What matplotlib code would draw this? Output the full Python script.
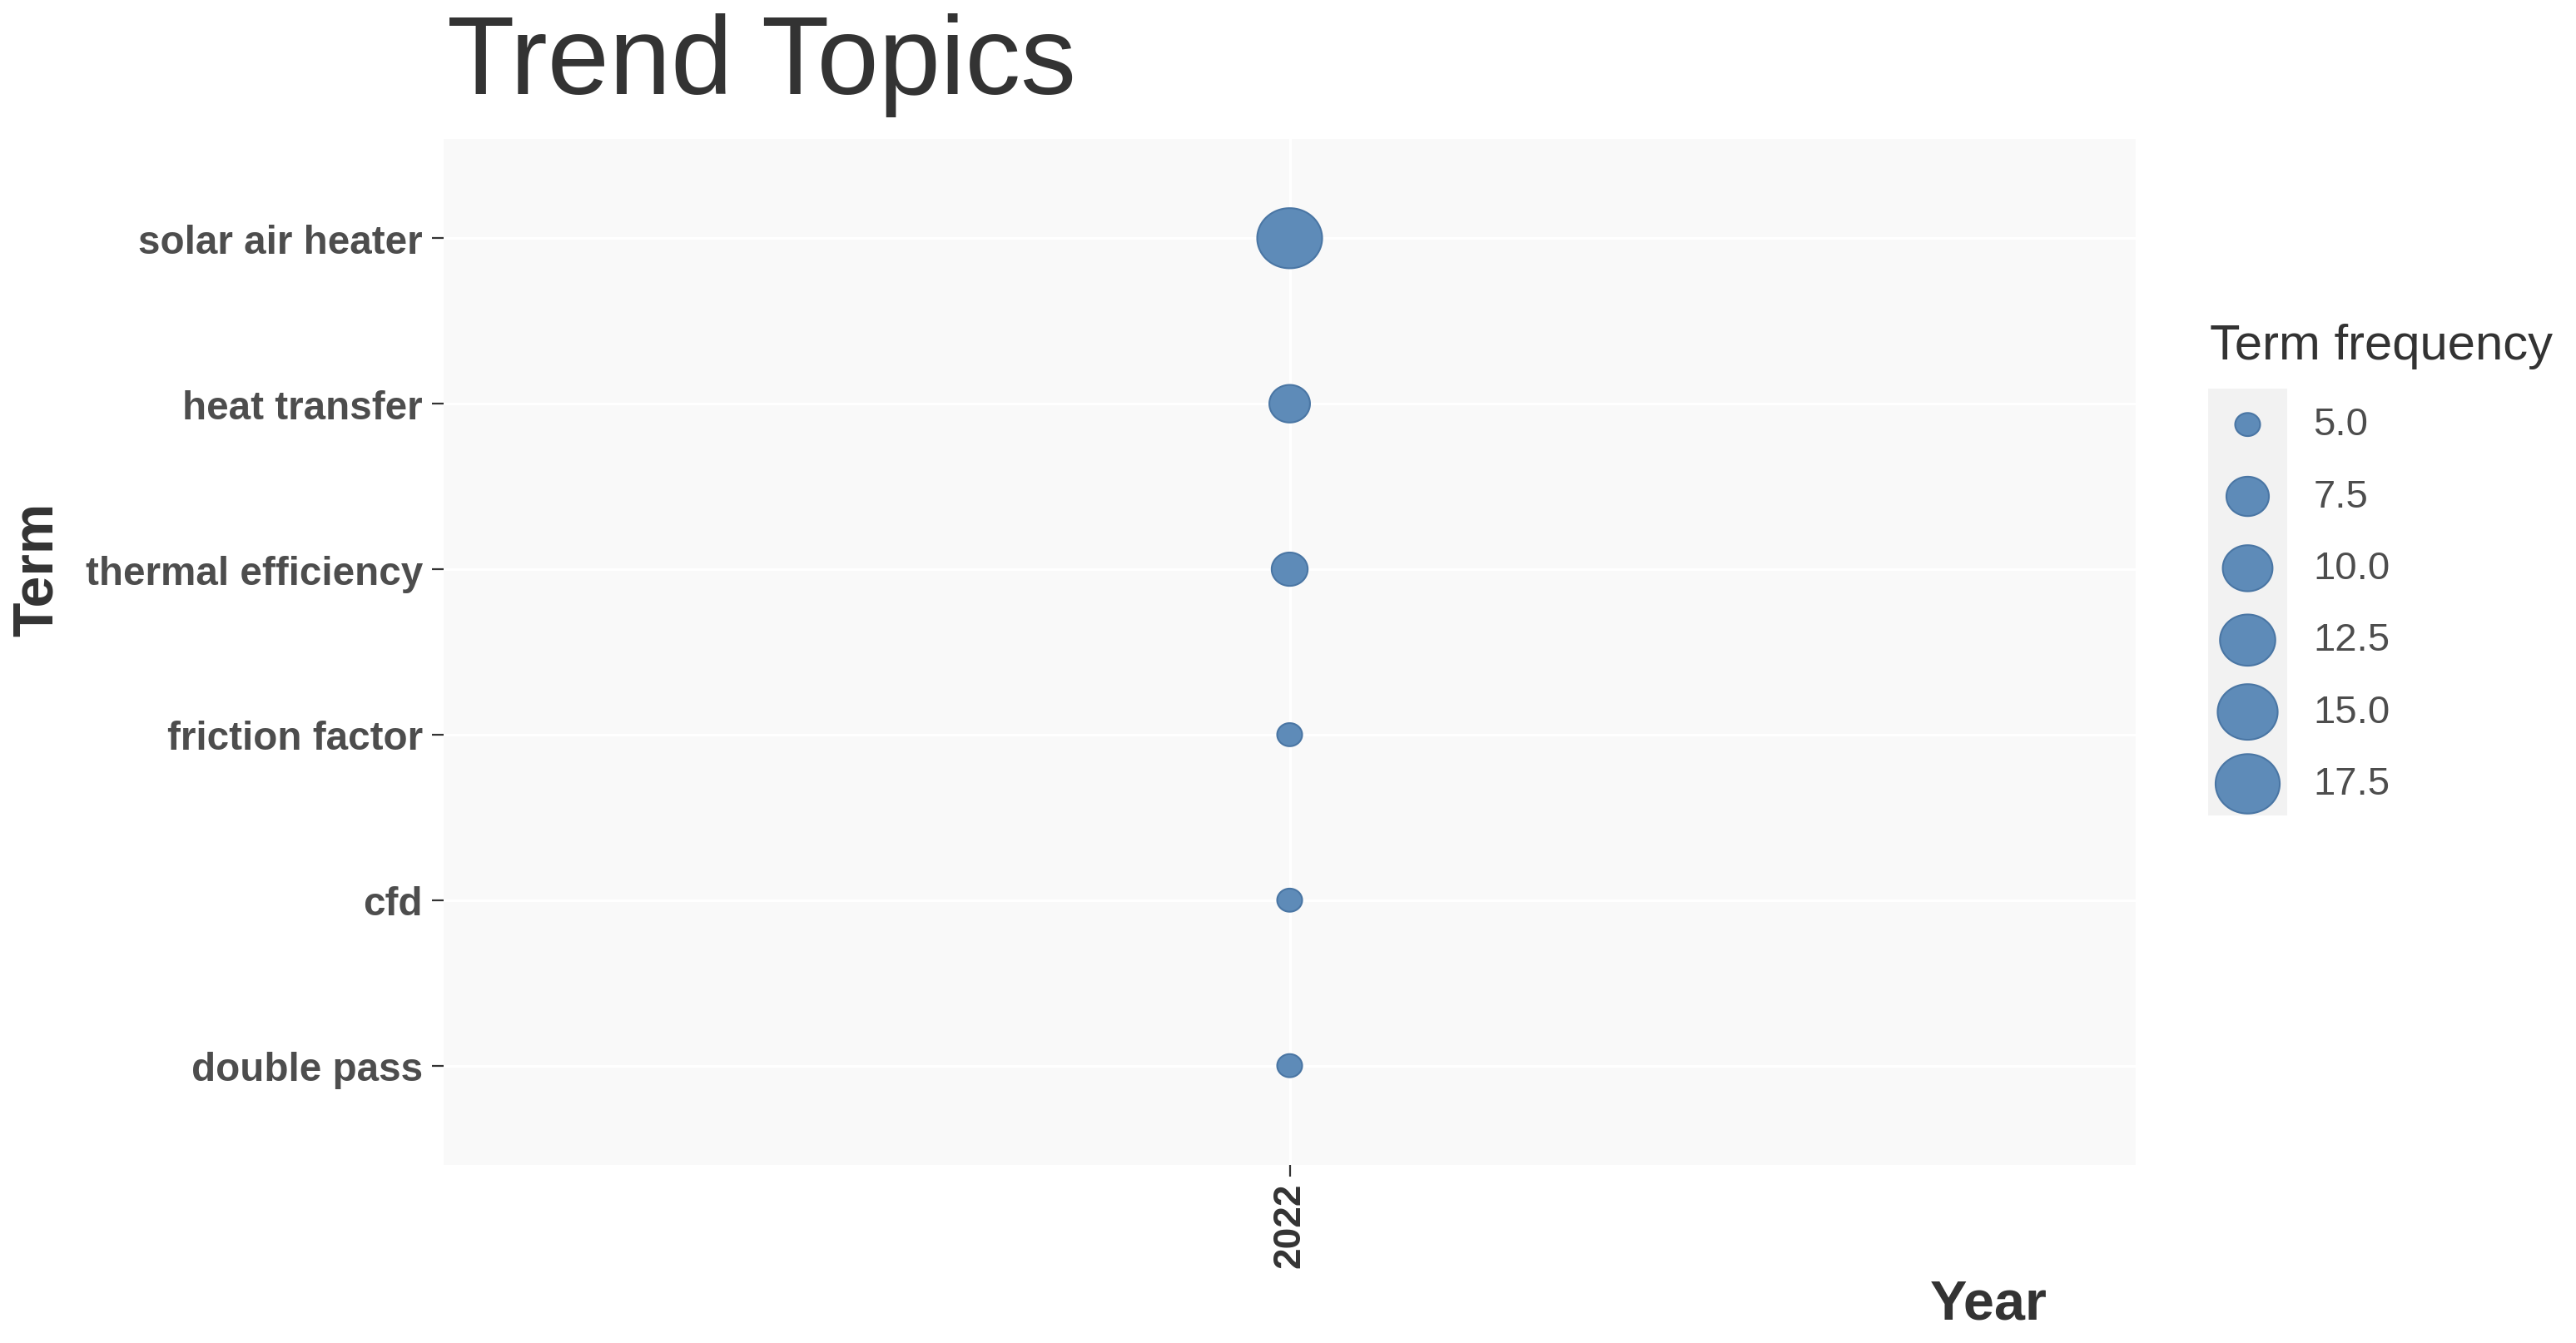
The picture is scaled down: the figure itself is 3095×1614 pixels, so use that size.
import numpy as np
import matplotlib
matplotlib.use("Agg")
import matplotlib.pyplot as plt
import matplotlib.transforms as mtransforms
from matplotlib.path import Path

plt.rcParams['font.family'] = ['Liberation Sans', 'DejaVu Sans']

# data
terms = ["solar air heater", "heat transfer", "thermal efficiency",
         "friction factor", "cfd", "double pass"]
freq = [18, 7, 6, 5, 5, 5]
years = ["2022"]
term_year = ["2022"] * len(terms)
legend_breaks = [5.0, 7.5, 10.0, 12.5, 15.0, 17.5]

fill = "#5e8bb8"
edge = "#4a76a4"
vmin, vmax = min(freq), max(freq)
d_lo, d_hi = 21.6, 56.2  # marker diameter range in points


def diam(v):
    v = np.asarray(v, dtype=float)
    return d_lo + (d_hi - d_lo) * np.sqrt((v - vmin) / (vmax - vmin))


# slightly wide ellipse marker, like the stretched original
t = np.linspace(0, 2 * np.pi, 80)
ell = Path(np.column_stack([np.cos(t), np.sin(t) / 1.08]), closed=True)

fig = plt.figure(figsize=(30.95, 16.15), dpi=100)
fig.patch.set_facecolor("white")

ax = fig.add_axes([0.1722, 0.1325, 0.6569, 0.7635])
ax.set_facecolor("#f9f9f9")
for s in ax.spines.values():
    s.set_visible(False)

ypos = np.arange(len(terms))[::-1] + 1
xpos = [years.index(y) for y in term_year]
ax.scatter(xpos, ypos, s=diam(freq) ** 2, marker=ell, c=fill,
           edgecolors=edge, linewidths=1.5, zorder=3)

ax.set_xlim(-1, 1)
ax.set_ylim(0.4, len(terms) + 0.6)
ax.set_yticks(ypos)
ax.set_yticklabels(terms, fontsize=34.3, fontweight="bold", color="#4d4d4d")
ax.set_xticks(range(len(years)))
ax.set_xticklabels(years, rotation=90, fontsize=33, fontweight="bold",
                   color="#333333")
ax.tick_params(axis="both", length=10, width=1.6, color="#333333")
ax.tick_params(axis="y", pad=8)
ax.tick_params(axis="x", pad=5)
ax.grid(True, color="white", linewidth=2.2)
ax.set_axisbelow(True)

ax.set_ylabel("Term", fontsize=49, fontweight="bold", color="#333333",
              va="center")
ax.yaxis.set_label_coords(-0.240, 0.581)
ax.set_xlabel("Year", fontsize=48, fontweight="bold", color="#333333",
              va="center")
ax.xaxis.set_label_coords(0.913, -0.136)

fig.text(537 / 3095, 1 - 113 / 1615, "Trend Topics", fontsize=96,
         color="#333333", va="baseline", ha="left")

# legend
lax = fig.add_axes([2653 / 3095, 1 - 981 / 1615, 95 / 3095, 513 / 1615])
lax.set_facecolor("#f2f2f2")
for s in lax.spines.values():
    s.set_visible(False)
lax.set_xticks([])
lax.set_yticks([])
lpos = np.arange(len(legend_breaks))
lax.scatter(np.zeros(len(legend_breaks)), lpos, s=diam(legend_breaks) ** 2,
            marker=ell, c=fill, edgecolors=edge, linewidths=1.5, zorder=3)
lax.set_xlim(-1, 1)
lax.set_ylim(len(legend_breaks) - 0.56, -0.50)
tr = mtransforms.blended_transform_factory(lax.transAxes, lax.transData)
for p, b in zip(lpos, legend_breaks):
    lax.text(1.33, p, f"{b:.1f}", transform=tr, fontsize=34,
             color="#4d4d4d", va="center", ha="left")
lax.text(0.02, 1.10, "Term frequency", transform=lax.transAxes, fontsize=43,
         color="#333333", va="center", ha="left")

fig.savefig("out.png", dpi=100)
